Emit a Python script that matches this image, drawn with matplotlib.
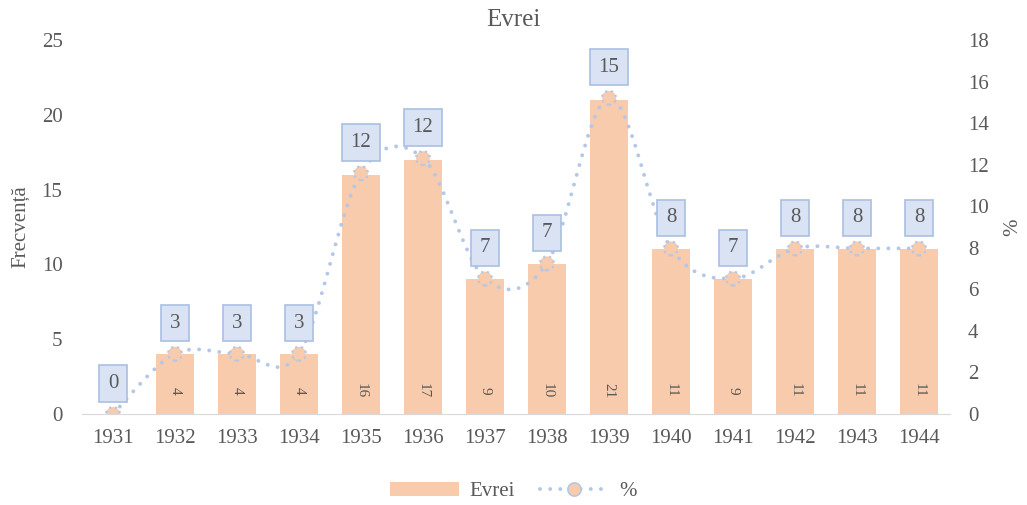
import matplotlib.pyplot as plt
import numpy as np
from matplotlib.path import Path
from matplotlib.patches import PathPatch, Patch
from matplotlib.lines import Line2D

plt.rcParams['font.family'] = ['Liberation Serif', 'DejaVu Serif']

years = ['1931', '1932', '1933', '1934', '1935', '1936', '1937',
         '1938', '1939', '1940', '1941', '1942', '1943', '1944']
counts = [0, 4, 4, 4, 16, 17, 9, 10, 21, 11, 9, 11, 11, 11]
percent = [0, 2.90, 2.90, 2.90, 11.59, 12.32, 6.52, 7.25, 15.22, 7.97, 6.52, 7.97, 7.97, 7.97]

bar_color = '#F8CBAD'
line_color = '#B4C7E7'
text_color = '#595959'


def smooth_path(xs, ys):    #excel-like smoothed line, bezier through every point
    pts = np.column_stack([xs, ys]).astype(float)
    n = len(pts)
    verts = [pts[0]]
    codes = [Path.MOVETO]
    for i in range(n - 1):
        p0 = pts[i - 1] if i > 0 else pts[i]
        p1 = pts[i]
        p2 = pts[i + 1]
        p3 = pts[i + 2] if i + 2 < n else pts[i + 1]
        verts += [p1 + (p2 - p0) / 6, p2 - (p3 - p1) / 6, p2]
        codes += [Path.CURVE4] * 3
    return Path(verts, codes)


fig = plt.figure(figsize=(10.27, 5.05), dpi=100)
ax = fig.add_axes([0.0798, 0.1802, 0.8452, 0.7406])
ax2 = ax.twinx()

x = np.arange(len(years))
bars = ax.bar(x, counts, width=0.61, color=bar_color, zorder=2)

ax.set_xlim(-0.5, len(years) - 0.5)
ax.set_ylim(0, 25)
ax.set_yticks(range(0, 26, 5))
ax2.set_ylim(0, 18)
ax2.set_yticks(range(0, 19, 2))
ax.set_xticks(x)
ax.set_xticklabels(years)

for a in (ax, ax2):
    for s in a.spines.values():
        s.set_visible(False)
    a.tick_params(length=0, labelsize=15, labelcolor=text_color)
ax.spines['bottom'].set_visible(True)
ax.spines['bottom'].set_color('#D9D9D9')
ax.tick_params(axis='y', pad=14)
ax2.tick_params(axis='y', pad=13)
ax.tick_params(axis='x', pad=11)

#bar count labels, rotated, near the base of each bar
for xi, c in zip(x, counts):
    if c > 0:
        ax.text(xi, 1.55, str(c), rotation=270, ha='center', va='center',
                fontsize=11, color=text_color, zorder=3)

#percentage line
patch = PathPatch(smooth_path(x, percent), fill=False, edgecolor=line_color,
                  linewidth=2.8, linestyle=(0, (0.01, 2.6)), capstyle='round', zorder=4)
ax2.add_patch(patch)
ax2.scatter(x, percent, s=100, facecolor=bar_color, edgecolors=line_color,
            linewidths=1.6, linestyles=':', zorder=5)

for xi, p in zip(x, percent):
    ax2.annotate(f'{p:.0f}', (xi, p), xytext=(0, 22), textcoords='offset points',
                 ha='center', va='center', fontsize=15, color=text_color, zorder=6,
                 bbox=dict(boxstyle='square,pad=0.42', facecolor='#DAE3F3',
                           edgecolor='#A9BFE3', linewidth=1.2))

ax.set_ylabel('Frecvență', fontsize=15, color=text_color, labelpad=8)
ax2.set_ylabel('%', fontsize=15, color=text_color, labelpad=10)
fig.text(0.5, 0.96, 'Evrei', ha='center', va='center', fontsize=18, color=text_color)

handles = [Patch(facecolor=bar_color, edgecolor='none'),
           Line2D([], [], color=line_color, linewidth=2.8, linestyle=(0, (0.01, 2.6)),
                  dash_capstyle='round', marker='o', markersize=9.5,
                  markerfacecolor=bar_color, markeredgecolor=line_color, markeredgewidth=1.2)]
fig.legend(handles, ['Evrei', '%'], loc='center', bbox_to_anchor=(0.5, 0.026), ncol=2,
           frameon=False, fontsize=15, labelcolor=text_color, handlelength=3.3,
           handleheight=0.6, columnspacing=1.2, handletextpad=0.5)

fig.savefig('out.png', dpi=100)
